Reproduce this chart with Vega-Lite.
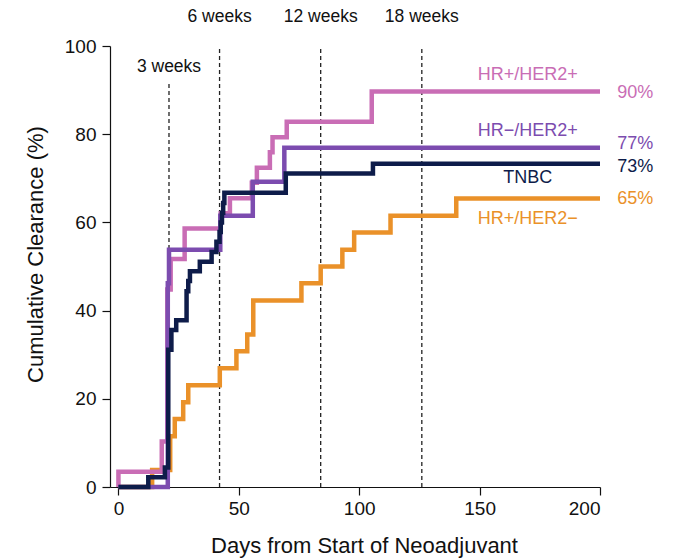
{
  "$schema": "https://vega.github.io/schema/vega-lite/v6.json",
  "width": 490,
  "height": 441,
  "autosize": {"type": "none"},
  "padding": {"left": 110, "top": 46, "right": 77, "bottom": 72},
  "background": "white",
  "config": {
    "view": {"stroke": null},
    "font": "Liberation Sans",
    "axis": {
      "grid": false,
      "domainColor": "#111",
      "domainWidth": 1.2,
      "tickColor": "#111",
      "tickWidth": 1.2,
      "tickSize": 8,
      "labelFont": "Liberation Sans",
      "labelFontSize": 19,
      "labelColor": "#111",
      "titleFont": "Liberation Sans",
      "titleFontSize": 22,
      "titleFontWeight": "normal",
      "titleColor": "#111"
    }
  },
  "datasets": {
    "curves": [
      {"group": "HR+/HER2−", "i": 0, "day": 0, "pct": 0},
      {"group": "HR+/HER2−", "i": 1, "day": 14, "pct": 3.85},
      {"group": "HR+/HER2−", "i": 2, "day": 21.5, "pct": 11.5},
      {"group": "HR+/HER2−", "i": 3, "day": 23.4, "pct": 15.4},
      {"group": "HR+/HER2−", "i": 4, "day": 26.9, "pct": 19.2},
      {"group": "HR+/HER2−", "i": 5, "day": 29, "pct": 23.1},
      {"group": "HR+/HER2−", "i": 6, "day": 42.1, "pct": 26.9},
      {"group": "HR+/HER2−", "i": 7, "day": 49, "pct": 30.8},
      {"group": "HR+/HER2−", "i": 8, "day": 53.5, "pct": 34.6},
      {"group": "HR+/HER2−", "i": 9, "day": 56, "pct": 42.3},
      {"group": "HR+/HER2−", "i": 10, "day": 76, "pct": 46.2},
      {"group": "HR+/HER2−", "i": 11, "day": 84, "pct": 50},
      {"group": "HR+/HER2−", "i": 12, "day": 93, "pct": 53.8},
      {"group": "HR+/HER2−", "i": 13, "day": 97.9, "pct": 57.7},
      {"group": "HR+/HER2−", "i": 14, "day": 113, "pct": 61.5},
      {"group": "HR+/HER2−", "i": 15, "day": 140.3, "pct": 65.4},
      {"group": "HR+/HER2−", "i": 16, "day": 200, "pct": 65.4},

      {"group": "HR+/HER2+", "i": 0, "day": 0, "pct": 0},
      {"group": "HR+/HER2+", "i": 1, "day": 0, "pct": 3.45},
      {"group": "HR+/HER2+", "i": 2, "day": 18, "pct": 10.3},
      {"group": "HR+/HER2+", "i": 3, "day": 20.3, "pct": 44.8},
      {"group": "HR+/HER2+", "i": 4, "day": 21.7, "pct": 51.7},
      {"group": "HR+/HER2+", "i": 5, "day": 27.5, "pct": 58.6},
      {"group": "HR+/HER2+", "i": 6, "day": 42.5, "pct": 62.1},
      {"group": "HR+/HER2+", "i": 7, "day": 46.3, "pct": 65.5},
      {"group": "HR+/HER2+", "i": 8, "day": 55.4, "pct": 69},
      {"group": "HR+/HER2+", "i": 9, "day": 57.5, "pct": 72.4},
      {"group": "HR+/HER2+", "i": 10, "day": 62.9, "pct": 75.9},
      {"group": "HR+/HER2+", "i": 11, "day": 64, "pct": 79.3},
      {"group": "HR+/HER2+", "i": 12, "day": 69.9, "pct": 82.8},
      {"group": "HR+/HER2+", "i": 13, "day": 105.2, "pct": 89.7},
      {"group": "HR+/HER2+", "i": 14, "day": 200, "pct": 89.7},

      {"group": "HR−/HER2+", "i": 0, "day": 0, "pct": 0},
      {"group": "HR−/HER2+", "i": 1, "day": 20.5, "pct": 46.2},
      {"group": "HR−/HER2+", "i": 2, "day": 21, "pct": 53.8},
      {"group": "HR−/HER2+", "i": 3, "day": 42.3, "pct": 61.5},
      {"group": "HR−/HER2+", "i": 4, "day": 55.8, "pct": 69.2},
      {"group": "HR−/HER2+", "i": 5, "day": 68.9, "pct": 76.9},
      {"group": "HR−/HER2+", "i": 6, "day": 200, "pct": 76.9},

      {"group": "TNBC", "i": 0, "day": 0, "pct": 0},
      {"group": "TNBC", "i": 1, "day": 12.4, "pct": 2.22},
      {"group": "TNBC", "i": 2, "day": 19.3, "pct": 4.44},
      {"group": "TNBC", "i": 3, "day": 20.7, "pct": 31.1},
      {"group": "TNBC", "i": 4, "day": 22, "pct": 35.6},
      {"group": "TNBC", "i": 5, "day": 24, "pct": 37.8},
      {"group": "TNBC", "i": 6, "day": 28.3, "pct": 44.4},
      {"group": "TNBC", "i": 7, "day": 29, "pct": 46.7},
      {"group": "TNBC", "i": 8, "day": 29.7, "pct": 48.9},
      {"group": "TNBC", "i": 9, "day": 33.8, "pct": 51.1},
      {"group": "TNBC", "i": 10, "day": 38.7, "pct": 53.3},
      {"group": "TNBC", "i": 11, "day": 40.7, "pct": 55.6},
      {"group": "TNBC", "i": 12, "day": 42, "pct": 57.8},
      {"group": "TNBC", "i": 13, "day": 42.5, "pct": 60},
      {"group": "TNBC", "i": 14, "day": 43, "pct": 62.2},
      {"group": "TNBC", "i": 15, "day": 43.5, "pct": 64.4},
      {"group": "TNBC", "i": 16, "day": 44, "pct": 66.7},
      {"group": "TNBC", "i": 17, "day": 69.5, "pct": 71.1},
      {"group": "TNBC", "i": 18, "day": 105.7, "pct": 73.3},
      {"group": "TNBC", "i": 19, "day": 200, "pct": 73.3}
    ],
    "weeks": [
      {"label": "3 weeks", "day": 21, "bottom": 0, "top": 91.4, "labelY": 95.2},
      {"label": "6 weeks", "day": 42, "bottom": 0, "top": 100, "labelY": 106.6},
      {"label": "12 weeks", "day": 84, "bottom": 0, "top": 100, "labelY": 106.6},
      {"label": "18 weeks", "day": 126, "bottom": 0, "top": 100, "labelY": 106.6}
    ],
    "names": [
      {"group": "HR+/HER2+", "text": "HR+/HER2+", "day": 170, "pct": 93.4},
      {"group": "HR−/HER2+", "text": "HR−/HER2+", "day": 170, "pct": 80.8},
      {"group": "TNBC", "text": "TNBC", "day": 170, "pct": 70.0},
      {"group": "HR+/HER2−", "text": "HR+/HER2−", "day": 170, "pct": 60.7}
    ],
    "finals": [
      {"group": "HR+/HER2+", "text": "90%", "day": 207.2, "pct": 89.3},
      {"group": "HR−/HER2+", "text": "77%", "day": 207.2, "pct": 77.8},
      {"group": "TNBC", "text": "73%", "day": 207.2, "pct": 72.6},
      {"group": "HR+/HER2−", "text": "65%", "day": 207.2, "pct": 65.2}
    ]
  },
  "layer": [
    {
      "data": {"name": "weeks"},
      "mark": {"type": "rule", "strokeDash": [4, 3], "strokeWidth": 1.3, "color": "#222"},
      "encoding": {
        "x": {"field": "day", "type": "quantitative"},
        "y": {"field": "bottom", "type": "quantitative"},
        "y2": {"field": "top"},
        "color": {"value": "#222"}
      }
    },
    {
      "data": {"name": "weeks"},
      "mark": {"type": "text", "fontSize": 17.5, "align": "center", "baseline": "middle", "font": "Liberation Sans"},
      "encoding": {
        "x": {"field": "day", "type": "quantitative"},
        "y": {"field": "labelY", "type": "quantitative"},
        "text": {"field": "label"},
        "color": {"value": "#111"}
      }
    },
    {
      "data": {"name": "curves"},
      "transform": [{"filter": "datum.group === 'HR+/HER2−'"}],
      "mark": {"type": "line", "interpolate": "step-after", "strokeWidth": 4.5, "strokeJoin": "miter"},
      "encoding": {
        "x": {"field": "day", "type": "quantitative"},
        "y": {"field": "pct", "type": "quantitative"},
        "order": {"field": "i"}
      }
    },
    {
      "data": {"name": "curves"},
      "transform": [{"filter": "datum.group === 'HR+/HER2+'"}],
      "mark": {"type": "line", "interpolate": "step-after", "strokeWidth": 4.5, "strokeJoin": "miter"},
      "encoding": {
        "x": {"field": "day", "type": "quantitative"},
        "y": {"field": "pct", "type": "quantitative"},
        "order": {"field": "i"}
      }
    },
    {
      "data": {"name": "curves"},
      "transform": [{"filter": "datum.group === 'HR−/HER2+'"}],
      "mark": {"type": "line", "interpolate": "step-after", "strokeWidth": 4.5, "strokeJoin": "miter"},
      "encoding": {
        "x": {"field": "day", "type": "quantitative"},
        "y": {"field": "pct", "type": "quantitative"},
        "order": {"field": "i"}
      }
    },
    {
      "data": {"name": "curves"},
      "transform": [{"filter": "datum.group === 'TNBC'"}],
      "mark": {"type": "line", "interpolate": "step-after", "strokeWidth": 4.5, "strokeJoin": "miter"},
      "encoding": {
        "x": {"field": "day", "type": "quantitative"},
        "y": {"field": "pct", "type": "quantitative"},
        "order": {"field": "i"}
      }
    },
    {
      "data": {"name": "names"},
      "mark": {"type": "text", "fontSize": 18, "align": "center", "baseline": "middle", "font": "Liberation Sans"},
      "encoding": {
        "x": {"field": "day", "type": "quantitative"},
        "y": {"field": "pct", "type": "quantitative"},
        "text": {"field": "text"}
      }
    },
    {
      "data": {"name": "finals"},
      "mark": {"type": "text", "fontSize": 18, "align": "left", "baseline": "middle", "font": "Liberation Sans"},
      "encoding": {
        "x": {"field": "day", "type": "quantitative"},
        "y": {"field": "pct", "type": "quantitative"},
        "text": {"field": "text"}
      }
    }
  ],
  "encoding": {
    "x": {
      "field": "day",
      "type": "quantitative",
      "scale": {"domain": [-3.5, 200], "nice": false, "zero": false},
      "axis": {
        "title": "Days from Start of Neoadjuvant",
        "values": [0, 50, 100, 150, 200],
        "labelPadding": 4,
        "titleX": 254,
        "titleY": 58,
        "titleAlign": "center",
        "titleBaseline": "middle"
      }
    },
    "y": {
      "field": "pct",
      "type": "quantitative",
      "scale": {"domain": [0, 100], "nice": false},
      "axis": {
        "title": "Cumulative Clearance (%)",
        "values": [0, 20, 40, 60, 80, 100],
        "labelPadding": 6,
        "titleX": -75,
        "titleY": 208,
        "titleAngle": -90,
        "titleAlign": "center",
        "titleBaseline": "middle"
      }
    },
    "color": {
      "field": "group",
      "type": "nominal",
      "scale": {
        "domain": ["HR+/HER2+", "HR−/HER2+", "TNBC", "HR+/HER2−"],
        "range": ["#C96DB5", "#7C4CAF", "#0E1C4A", "#EA9129"]
      },
      "legend": null
    }
  }
}
